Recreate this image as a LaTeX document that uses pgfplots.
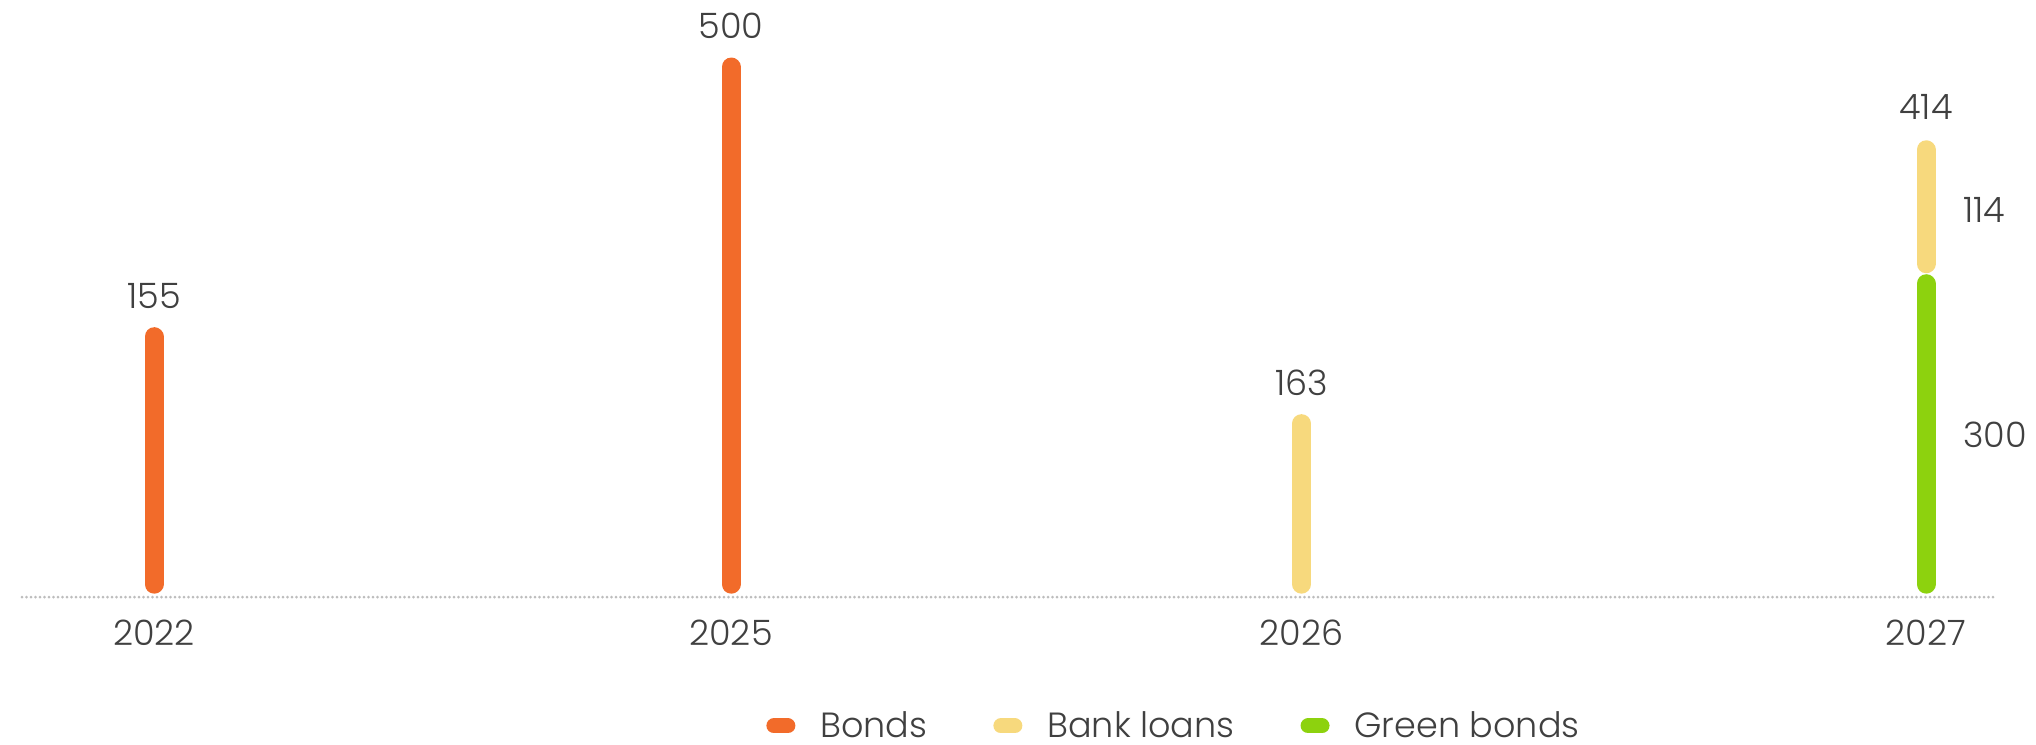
\documentclass[border=0pt]{standalone}
\usepackage{fontspec}
\setmainfont{Poppins}[UprightFont=* Light]
\usepackage{pgfplots}
\pgfplotsset{compat=1.18}
\definecolor{cOrange}{HTML}{F26B2A}
\definecolor{cYellow}{HTML}{F7D97D}
\definecolor{cGreen}{HTML}{8DD20E}
\definecolor{cText}{HTML}{404040}
\definecolor{cDot}{HTML}{BDBDBD}
\begin{document}
\color{cText}%
\begin{tikzpicture}
\begin{axis}[
  scale only axis, width=1018pt, height=372pt,
  xmin=0, xmax=2036, ymin=-154.7, ymax=564.6,
  axis line style={draw=none}, major tick length=0pt,
  ytick=\empty,
  xtick={154,731,1301.5,1926},
  xticklabels={2022,2025,2026,2027},
  xticklabel style={anchor=center, yshift=111*0.5pt, inner sep=0pt, text=cText},
  clip=false,
  font=\fontsize{17.5}{21}\selectfont,
  legend columns=3,
  legend style={at={(axis cs:1173,-137)}, anchor=center, draw=none, fill=none,
    inner sep=0pt, outer sep=0pt,
    nodes={inner sep=0pt, text=cText},
    /tikz/every odd column/.append style={column sep=12.5pt},
    /tikz/every even column/.append style={column sep=33pt}},
  legend image code/.code={\draw[#1, line width=7.5pt, line cap=round] (3.75pt,0pt) -- (10.75pt,0pt);},
  nodes near coords style={anchor=south, inner sep=0pt, yshift=9.25pt, text=cText},
]
\path (rel axis cs:0,0) rectangle (rel axis cs:1,1);
% dotted baseline
\addplot[forget plot, cDot, line width=1.5pt, line cap=round, dash pattern=on 0pt off 2.25pt]
  coordinates {(22,-12.6) (1993,-12.6)};
% Bonds
\addplot[forget plot, ycomb, cOrange, line width=9.5pt, line cap=round, mark=none,
  nodes near coords, point meta=explicit symbolic]
  coordinates {(154,239.3) [155] (731,500) [500]};
% Bank loans 2026
\addplot[forget plot, ycomb, cYellow, line width=9.5pt, line cap=round, mark=none,
  nodes near coords, point meta=explicit symbolic]
  coordinates {(1301.5,155.2) [163]};
% Green bonds 2027
\addplot[forget plot, ycomb, cGreen, line width=9.5pt, line cap=round, mark=none]
  coordinates {(1926,290.5)};
% Bank loans 2027 (stacked)
\addplot[forget plot, cYellow, line width=9.5pt, line cap=round, mark=none]
  coordinates {(1926,309.8) (1926,420)};
\node[anchor=south, inner sep=0pt, text=cText] at (axis cs:1926,420) [yshift=14.75pt] {414};
\node[anchor=west, inner sep=0pt, text=cText] at (axis cs:1963,361.6) {114};
\node[anchor=west, inner sep=0pt, text=cText] at (axis cs:1963,144) {300};
\addlegendimage{cOrange}
\addlegendentry{Bonds}
\addlegendimage{cYellow}
\addlegendentry{Bank loans}
\addlegendimage{cGreen}
\addlegendentry{Green bonds}
\end{axis}
\end{tikzpicture}
\end{document}
